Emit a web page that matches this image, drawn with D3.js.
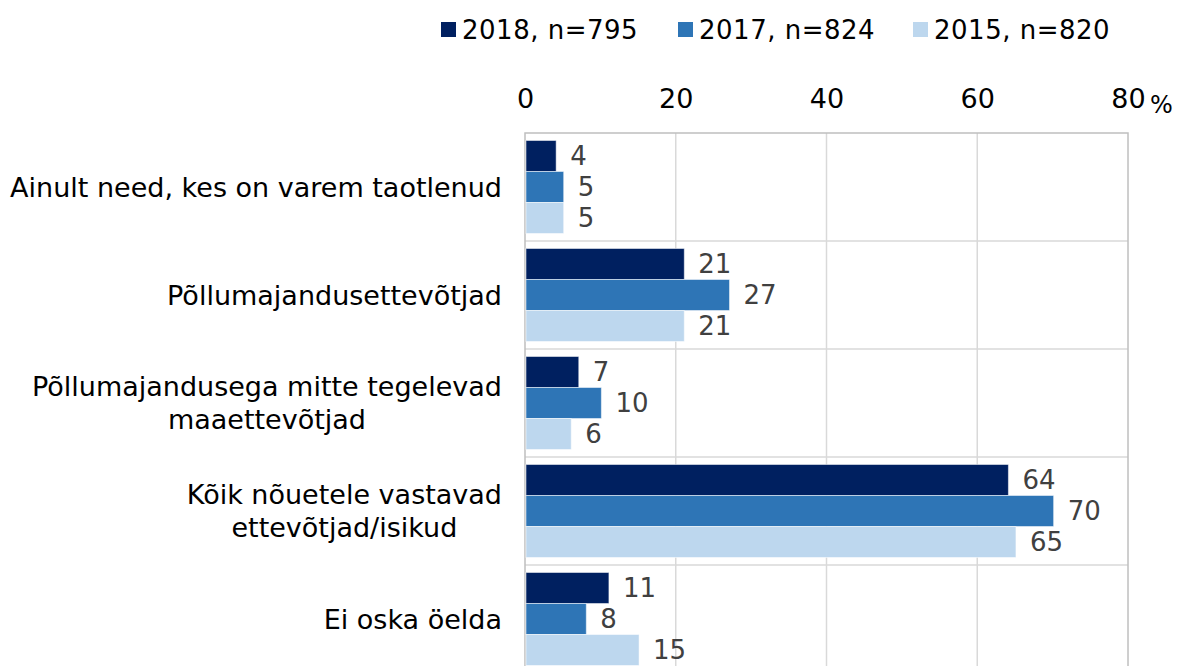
<!DOCTYPE html>
<html>
<head>
<meta charset="utf-8">
<script src="https://cdn.jsdelivr.net/npm/d3@7"></script>
<style>
  body { margin: 0; background: #fff; }
  svg text { font-family: "DejaVu Sans", Verdana, sans-serif; }
</style>
</head>
<body>
<div id="chart"></div>
<script>
var categories = [
    ["Ainult need, kes on varem taotlenud"],
    ["Põllumajandusettevõtjad"],
    ["Põllumajandusega mitte tegelevad", "maaettevõtjad"],
    ["Kõik nõuetele vastavad", "ettevõtjad/isikud"],
    ["Ei oska öelda"]
];
var seriesNames = ["2018, n=795", "2017, n=824", "2015, n=820"];
var seriesColors = ["#002060", "#2E75B6", "#BDD7EE"];
var values2018 = [4, 21, 7, 64, 11];
var values2017 = [5, 27, 10, 70, 8];
var values2015 = [5, 21, 6, 65, 15];
var xTicks = [0, 20, 40, 60, 80];

var series = [values2018, values2017, values2015];

var width = 1179, height = 666;
var margin = {top: 133, left: 525};
var plotW = 603, plotH = 540;
var numFont = "'Open Sans', Roboto, sans-serif";

var svg = d3.select("#chart").append("svg")
    .attr("width", width)
    .attr("height", height);

var x = d3.scaleLinear().domain([0, 80]).range([0, plotW]);
var y0 = d3.scaleBand().domain(d3.range(categories.length)).range([0, plotH]);
var y1 = d3.scaleBand().domain(d3.range(series.length))
    .range([7.5, y0.bandwidth() - 7.5]);

var g = svg.append("g")
    .attr("transform", "translate(" + margin.left + "," + margin.top + ")");

// vertical gridlines
g.selectAll(".vgrid")
    .data(xTicks.slice(1, -1))
    .enter().append("line")
    .attr("x1", function(d) { return x(d); })
    .attr("x2", function(d) { return x(d); })
    .attr("y1", 0).attr("y2", plotH)
    .attr("stroke", "#d9d9d9").attr("stroke-width", 1.5);

// horizontal separators between categories
g.selectAll(".hgrid")
    .data(d3.range(1, categories.length))
    .enter().append("line")
    .attr("x1", 0).attr("x2", plotW)
    .attr("y1", function(d) { return y0(d); })
    .attr("y2", function(d) { return y0(d); })
    .attr("stroke", "#d9d9d9").attr("stroke-width", 1.5);

// border
g.append("rect")
    .attr("x", 0).attr("y", 0)
    .attr("width", plotW).attr("height", plotH)
    .attr("fill", "none")
    .attr("stroke", "#bfbfbf").attr("stroke-width", 1.5);

// bars
var groups = g.selectAll(".grp")
    .data(categories)
    .enter().append("g")
    .attr("transform", function(d, i) { return "translate(0," + y0(i) + ")"; });

groups.each(function(cat, ci) {
    var grp = d3.select(this);
    series.forEach(function(vals, si) {
        grp.append("rect")
            .attr("x", 1)
            .attr("y", y1(si))
            .attr("width", x(vals[ci]))
            .attr("height", y1.bandwidth())
            .attr("fill", seriesColors[si])
            .attr("stroke", "#ffffff")
            .attr("stroke-opacity", 0.5)
            .attr("stroke-width", 1);
        grp.append("text")
            .attr("x", x(vals[ci]) + 15)
            .attr("y", y1(si) + y1.bandwidth() / 2)
            .attr("dy", "0.36em")
            .attr("font-size", 26)
            .attr("font-family", numFont)
            .attr("fill", "#404040")
            .text(vals[ci]);
    });
});

// top axis
var xAxis = d3.axisTop(x).tickValues(xTicks).tickSize(0).tickPadding(0);
var axisG = svg.append("g")
    .attr("transform", "translate(" + margin.left + ",108)")
    .call(xAxis);
axisG.select(".domain").remove();
axisG.selectAll("text")
    .attr("font-size", 27)
    .attr("fill", "#000")
    .attr("font-family", numFont);

svg.append("text")
    .attr("x", 1150)
    .attr("y", 113)
    .attr("font-size", 24)
    .attr("font-family", numFont)
    .attr("fill", "#000")
    .text("%");

// category labels
var labelRight = 502;
categories.forEach(function(lines, i) {
    var t = svg.append("text")
        .attr("font-size", 27)
        .attr("fill", "#000")
        .attr("text-anchor", "middle");
    var lh = 33;
    var cy = margin.top + y0(i) + y0.bandwidth() / 2;
    var startY = cy - (lines.length - 1) * lh / 2;
    lines.forEach(function(line, li) {
        t.append("tspan")
            .attr("x", 0)
            .attr("y", startY + li * lh)
            .attr("dy", "0.36em")
            .text(line);
    });
    var w = t.node().getBBox().width;
    t.selectAll("tspan").attr("x", labelRight - w / 2);
});

// legend
var legendX = [441, 678, 913];
seriesNames.forEach(function(name, i) {
    svg.append("rect")
        .attr("x", legendX[i]).attr("y", 22)
        .attr("width", 15).attr("height", 15)
        .attr("fill", seriesColors[i]);
    svg.append("text")
        .attr("x", legendX[i] + 21)
        .attr("y", 30)
        .attr("dy", "0.36em")
        .attr("font-size", 26)
        .attr("letter-spacing", 0.5)
        .attr("fill", "#000")
        .text(name);
});
</script>
</body>
</html>
